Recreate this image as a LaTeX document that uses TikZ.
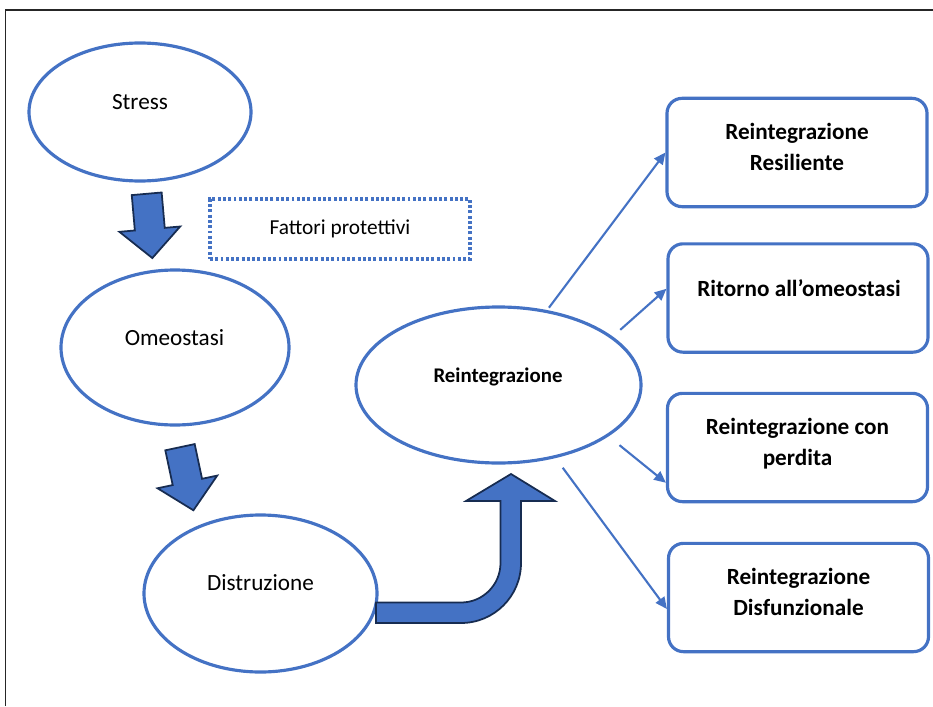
\documentclass[tikz,border=0pt]{standalone}
\usepackage{fontspec}
\setmainfont{Carlito}
\usetikzlibrary{arrows.meta,shapes.geometric,calc}
\definecolor{office}{HTML}{4472C4}
\definecolor{navy}{HTML}{172C51}
\newcommand{\blockdown}[2]{\begin{scope}[shift={(#1)},rotate=#2]
  \draw[blockarrow] (-15,0)--(15,0)--(15,35.5)--(30.5,35.5)--(0,64.5)--(-30.5,35.5)--(-15,35.5)--cycle;\end{scope}}

\begin{document}
\begin{tikzpicture}[x=0.03cm,y=-0.03cm,
  font=\fontsize{19.8pt}{26.5pt}\selectfont,
  oval/.style={ellipse,draw=office,line width=2.7pt,inner sep=0pt},
  resbox/.style={draw=office,line width=2.7pt,rounded corners=0.45cm,
    minimum width=7.8cm,minimum height=3.25cm},
  boxtxt/.style={align=center,font=\fontsize{19.8pt}{26.5pt}\selectfont\bfseries},
  link/.style={draw=office,line width=1.8pt,-{Triangle[length=10pt,width=9pt]}},
  blockarrow/.style={fill=office,draw=navy,line width=1.5pt,line join=miter}]
\useasboundingbox (0,0) rectangle (933,706);
% frame
\draw[line width=1.2pt,black!85] (5.5,706)--(5.5,10)--(933,10);
% left column
\node[oval,minimum width=6.66cm,minimum height=4.14cm] (stress) at (140,112) {};
\node[anchor=base] (stresslbl) at (140,110) {Stress};
\node[oval,minimum width=6.84cm,minimum height=4.65cm] (omeo) at (175,347.5) {};
\node[anchor=base] (omeolbl) at (174.5,345.7) {Omeostasi};
\node[oval,minimum width=6.99cm,minimum height=4.71cm] (distr) at (260.5,593.5) {};
\node[anchor=base] (distrlbl) at (260.5,590) {Distruzione};
\blockdown{146.7,193.8}{5}
\blockdown{180,447.2}{12}
% fattori protettivi
\node[draw=office,line width=2.8pt,dash pattern=on 2.5pt off 2pt,
  minimum width=7.8cm,minimum height=1.8cm,font=\fontsize{18.2pt}{21pt}\selectfont] (prot) at (340,229) {Fattori protettivi};
% reintegrazione
\node[oval,minimum width=8.55cm,minimum height=4.68cm] (reint) at (498.5,385) {};
\node[anchor=base,font=\fontsize{17.8pt}{21pt}\selectfont\bfseries] (reintlbl) at (498,382) {Reintegrazione};
\draw[blockarrow] (376,623)--(461,623) arc[start angle=-90,end angle=0,radius=1.8cm]
  --(521,501)--(555,501)--(511,474)--(466,501)--(500.5,501)--(500.5,563)
  arc[start angle=0,end angle=-90,radius=1.185cm]--(376,602.5)--cycle;
% outcomes
\node[resbox] (resil) at (797,152.5) {};
\node[boxtxt] (resillbl) at (797,147) {Reintegrazione\\Resiliente};
\node[resbox] (ritorno) at (798,298) {};
\node[boxtxt] (ritornolbl) at (799,288) {Ritorno all’omeostasi};
\node[resbox] (perdita) at (797.5,447.5) {};
\node[boxtxt] (perditalbl) at (797.5,444) {Reintegrazione con\\perdita};
\node[resbox] (disf) at (798.5,597.5) {};
\node[boxtxt] (disflbl) at (798.5,592) {Reintegrazione\\Disfunzionale};
\draw[link,shorten <=0.09cm] (reint.57)--(resil.180);
\draw[link,shorten <=0.3cm] (reint.23)--(ritorno.176);
\draw[link,shorten <=0.42cm] (reint.335)--(perdita.195);
\draw[link,shorten <=0.36cm] (reint.308)--(disf.185);
\end{tikzpicture}
\end{document}
